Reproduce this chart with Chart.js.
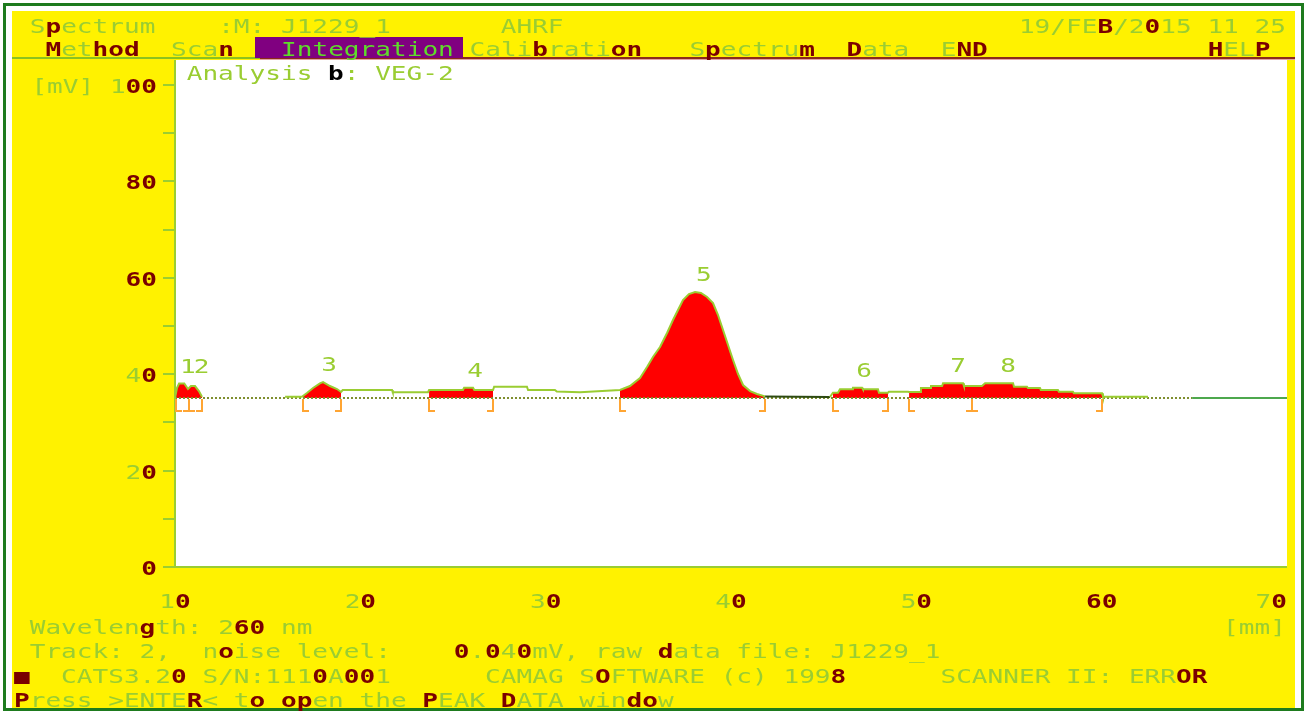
<!DOCTYPE html>
<html>
<head>
<meta charset="utf-8">
<script src="https://cdn.jsdelivr.net/npm/chart.js@4"></script>
<style>
html, body { margin: 0; padding: 0; background: #fff; }
#wrap { position: relative; width: 1307px; height: 712px; overflow: hidden; background: #fff; }
#frame { position: absolute; left: 3px; top: 3px; width: 1295px; height: 702px; border: 3px solid #1e7b1e; }
#yellow { position: absolute; left: 12px; top: 11px; width: 1283px; height: 697px; background: #fff200; }
.bar { position: absolute; }
#c { position: absolute; left: 0; top: 0; }
.t { position: absolute; left: 14px; font-family: "DejaVu Sans Mono", monospace; font-size: 20px; line-height: 20px;
     white-space: pre; color: #9acd32; transform: scaleX(1.304); transform-origin: 0 0; }
.t .d { color: #7a0000; font-weight: bold; }
.t.onwhite .d { color: #000; }
.t .hl { color: #5fdc2a; }
</style>
</head>
<body>
<div id="wrap">
  <div id="frame"></div>
  <div id="yellow"></div>
  <div class="bar" style="left:12px;top:57px;width:248px;height:2px;background:#8cc21f"></div>
  <div class="bar" style="left:260px;top:57px;width:1035px;height:2px;background:#8b2b1b"></div>
  <div class="bar" style="left:260px;top:59px;width:1035px;height:1px;background:#e3a3a3"></div>
  <div class="bar" style="left:255px;top:37px;width:208px;height:21px;background:#800080"></div>
  <canvas id="c" width="1307" height="712"></canvas>
  <div id="texts"></div>
</div>
<script>
// scan curve (x in mm, y in mV; null = no trace)
const curveX = [10.00, 10.11, 10.22, 10.50, 10.70, 10.86, 11.08, 11.29, 11.46, 11.50,
  15.94, 16.85, 17.12, 17.45, 17.82, 17.99, 18.36, 18.74, 18.96, 19.05,
  21.71, 21.75, 23.65, 23.71, 25.54, 25.60, 26.08, 26.15, 27.16, 27.22,
  28.99, 29.05, 30.50, 30.60, 31.85, 34.01, 34.55, 35.09, 35.47, 35.79,
  36.17, 36.55, 36.87, 37.14, 37.41, 37.73, 38.06, 38.38, 38.71, 39.03,
  39.30, 39.57, 39.84, 40.11, 40.38, 40.65, 41.03, 41.40, 41.84, 45.34,
  45.50, 45.77, 45.88, 46.53, 46.58, 47.07, 47.12, 47.93, 47.98, 48.47,
  48.52, 49.55, 49.61, 50.20, 50.25, 50.74, 50.79, 51.39, 51.44, 52.52,
  52.57, 53.54, 53.71, 53.87, 55.22, 55.27, 55.97, 56.02, 56.67, 56.72,
  57.64, 57.69, 58.45, 58.50, 60.02, 60.07, 62.50, 62.55, 64.88, 70.00];
const curveY = [35.06, 37.20, 38.07, 38.07, 36.93, 37.55, 37.55, 36.51, 35.30, null,
  35.33, 35.33, 36.10, 37.14, 38.11, 38.38, 37.55, 36.93, 36.31, 36.72,
  36.72, 36.25, 36.25, 36.72, 36.72, 37.20, 37.20, 36.72, 36.72, 37.41,
  37.41, 36.72, 36.72, 36.40, 36.25, 36.72, 37.55, 39.21, 41.49, 43.57,
  45.64, 48.55, 51.24, 53.32, 55.39, 56.64, 57.05, 56.85, 56.02, 54.77,
  52.28, 49.17, 46.06, 42.95, 40.04, 37.76, 36.51, 35.89, 35.40, 35.27,
  36.16, 36.16, 36.87, 36.87, 37.20, 37.20, 36.87, 36.87, 36.16, 36.16,
  36.37, 36.37, 36.31, 36.31, 37.14, 37.14, 37.55, 37.55, 38.11, 38.11,
  37.55, 37.55, 38.11, 38.11, 38.11, 37.41, 37.41, 37.14, 37.14, 36.72,
  36.72, 36.37, 36.37, 36.04, 36.04, 35.33, 35.33, null, 35.06, 35.06];

// integration baseline
const baseLevel = 35.06;
const baseX = [10, 64.88];

// integrated peaks
const peakNames  = ['1', '2', '3', '4', '5', '6', '7', '8'];
const peakStart  = [10.05, 10.76, 16.91, 23.71, 34.01, 45.50, 49.61, 53.00];
const peakEnd    = [10.76, 11.46, 18.96, 27.16, 41.84, 48.47, 53.00, 60.02];
const peakLabelX = [10.70, 11.43, 18.31, 26.19, 38.54, 47.18, 52.25, 54.95];

// axes
const xTicks = [10, 20, 30, 40, 50, 60, 70];
const yTicks = [0, 10, 20, 30, 40, 50, 60, 70, 80, 90, 100];
const yLabelTicks = [0, 20, 40, 60, 80, 100];

// screen text (~ plain, {} dark)
const screenLines = [
  { base: 33, cls: '', text: ' Spectrum    :M: J1229_1       AHRF                             19/FEB/2015 11 25' },
  { base: 56, cls: '', text: '  {M}et{h}od  Sca{n}   ~Integration~ Calibratio{n}   Spectru{m}  Data  E{N}D              {H}ELP' },
  { base: 80, cls: 'onwhite', text: '           Analysis {b}: VEG-2' },
  { base: 634, cls: '', text: ' Wavelength: 260 nm                                                          [mm]' },
  { base: 658, cls: '', text: ' Track: 2,  noise level:    0.040mV, raw data file: J1229_1' },
  { base: 683, cls: '', text: '{■}  CATS3.20 S/N:1110A001      CAMAG SOFTWARE (c) 1998      SCANNER II: ERRO{R}' },
  { base: 707, cls: '', text: 'Press >ENTE{R}< to open the PEAK DATA window' }
];

const darkSet = '068opdbgBDPO';
const green = '#9acd32';

function fmt(s) {
  let out = '', forced = false, plain = false;
  for (const ch of s) {
    if (ch === '{') { forced = true; continue; }
    if (ch === '}') { forced = false; continue; }
    if (ch === '~') { plain = !plain; continue; }
    const esc = ch === '<' ? '&lt;' : ch === '>' ? '&gt;' : ch === '&' ? '&amp;' : ch;
    if (plain) out += '<span class="hl">' + esc + '</span>';
    else if (forced || darkSet.includes(ch)) out += '<span class="d">' + esc + '</span>';
    else out += esc;
  }
  return out;
}

const textBox = document.getElementById('texts');
screenLines.forEach(l => {
  const d = document.createElement('div');
  d.className = 't ' + l.cls;
  d.style.top = (l.base - 17) + 'px';
  d.innerHTML = fmt(l.text);
  textBox.appendChild(d);
});

// draw text char by char in the stretched screen font
const CW = 15.7;
function drawMono(ctx, text, x, y, align, plain) {
  const w = text.length * CW;
  let sx = align === 'right' ? x - w : align === 'center' ? x - w / 2 : x;
  for (const ch of text) {
    const dark = !plain && darkSet.includes(ch);
    ctx.save();
    ctx.translate(sx, y);
    ctx.scale(1.304, 1);
    ctx.font = (dark ? 'bold ' : '') + '20px "DejaVu Sans Mono"';
    ctx.fillStyle = dark ? '#7a0000' : green;
    ctx.textBaseline = 'alphabetic';
    ctx.fillText(ch, 0, 0);
    ctx.restore();
    sx += CW;
  }
}

function curveAt(x) {
  for (let i = 0; i < curveX.length - 1; i++) {
    if (curveY[i] === null || curveY[i + 1] === null) continue;
    if (x >= curveX[i] && x <= curveX[i + 1]) {
      const t = (x - curveX[i]) / (curveX[i + 1] - curveX[i]);
      return curveY[i] + t * (curveY[i + 1] - curveY[i]);
    }
  }
  return baseLevel;
}

// group touching peaks
const groups = [];
peakStart.forEach((s, i) => {
  const g = groups[groups.length - 1];
  if (g && Math.abs(g.end - s) < 0.01) { g.end = peakEnd[i]; g.idx.push(i); }
  else groups.push({ start: s, end: peakEnd[i], idx: [i] });
});

const fillSets = groups.map(g => {
  const pts = [{ x: g.start, y: curveAt(g.start) }];
  curveX.forEach((x, i) => {
    if (x > g.start && x < g.end && curveY[i] !== null) pts.push({ x: x, y: curveY[i] });
  });
  pts.push({ x: g.end, y: curveAt(g.end) });
  return {
    data: pts, borderWidth: 0, pointRadius: 0, backgroundColor: '#ff0000',
    fill: { value: baseLevel }, order: 3
  };
});

const screenPlugin = {
  id: 'screen',
  beforeDraw(chart) {
    const { ctx, chartArea: a } = chart;
    ctx.save();
    ctx.fillStyle = '#ffffff';
    ctx.fillRect(a.left, a.top, a.right - a.left, a.bottom - a.top);
    ctx.restore();
  },
  afterDatasetsDraw(chart) {
    const { ctx, chartArea: a, scales: { x, y } } = chart;
    ctx.save();
    // axes
    ctx.strokeStyle = green;
    ctx.lineWidth = 2;
    ctx.beginPath();
    ctx.moveTo(a.left, a.top);
    ctx.lineTo(a.left, a.bottom);
    ctx.lineTo(a.right, a.bottom);
    yTicks.forEach(v => {
      const py = Math.round(y.getPixelForValue(v));
      ctx.moveTo(a.left - 12, py);
      ctx.lineTo(a.left, py);
    });
    ctx.stroke();

    // brackets under the baseline
    const by = y.getPixelForValue(baseLevel);
    ctx.strokeStyle = '#ffa533';
    ctx.lineWidth = 2;
    groups.forEach(g => {
      const marks = [{ v: g.start, k: '[' }];
      g.idx.slice(1).forEach(i => marks.push({ v: peakStart[i], k: 'I' }));
      marks.push({ v: g.end, k: ']' });
      marks.forEach(m => {
        const px = Math.round(x.getPixelForValue(m.v));
        ctx.beginPath();
        ctx.moveTo(px, by + 1);
        ctx.lineTo(px, by + 13);
        if (m.k === '[') ctx.lineTo(px + 6, by + 13);
        if (m.k === ']') ctx.lineTo(px - 6, by + 13);
        if (m.k === 'I') { ctx.moveTo(px - 6, by + 13); ctx.lineTo(px + 6, by + 13); }
        ctx.stroke();
      });
    });

    // peak numbers
    groups.forEach(g => {
      let top = curveAt(g.start);
      curveX.forEach((xv, i) => {
        if (xv >= g.start && xv <= g.end && curveY[i] !== null) top = Math.max(top, curveY[i]);
      });
      const py = y.getPixelForValue(top) - 18;
      g.idx.forEach(i => drawMono(ctx, peakNames[i], x.getPixelForValue(peakLabelX[i]), py + 7, 'center', true));
    });

    // tick labels
    xTicks.forEach((v, i) => {
      const last = i === xTicks.length - 1;
      drawMono(ctx, String(v), x.getPixelForValue(v), 608, last ? 'right' : 'center');
    });
    yLabelTicks.forEach(v => {
      const txt = v === 100 ? '[mV] ' + v : String(v);
      drawMono(ctx, txt, 157, y.getPixelForValue(v) + 8, 'right');
    });
    ctx.restore();
  }
};

new Chart(document.getElementById('c'), {
  type: 'line',
  data: {
    datasets: [
      {
        data: curveX.map((xv, i) => ({ x: xv, y: curveY[i] })),
        borderColor: green, borderWidth: 2, pointRadius: 0, fill: false,
        spanGaps: false, order: 1,
        segment: {
          borderColor: c => {
            const a = c.p0.parsed.x;
            if (a >= 41.8 && a < 45.3) return '#2d4a12';
            if (a >= 64.8) return '#4ea84e';
            return undefined;
          }
        }
      },
      {
        data: baseX.map(xv => ({ x: xv, y: baseLevel })),
        borderColor: '#7f8f2f', borderWidth: 2, borderDash: [2, 2],
        pointRadius: 0, fill: false, order: 2
      },
      ...fillSets
    ]
  },
  options: {
    responsive: false,
    animation: false,
    devicePixelRatio: 1,
    layout: { padding: { left: 175, right: 20, top: 60, bottom: 145 } },
    plugins: { legend: { display: false }, tooltip: { enabled: false } },
    elements: { line: { tension: 0 }, point: { radius: 0 } },
    scales: {
      x: { type: 'linear', min: 10, max: 70, display: false },
      y: { min: 0, max: 105.2, display: false }
    }
  },
  plugins: [screenPlugin]
});
</script>
</body>
</html>
